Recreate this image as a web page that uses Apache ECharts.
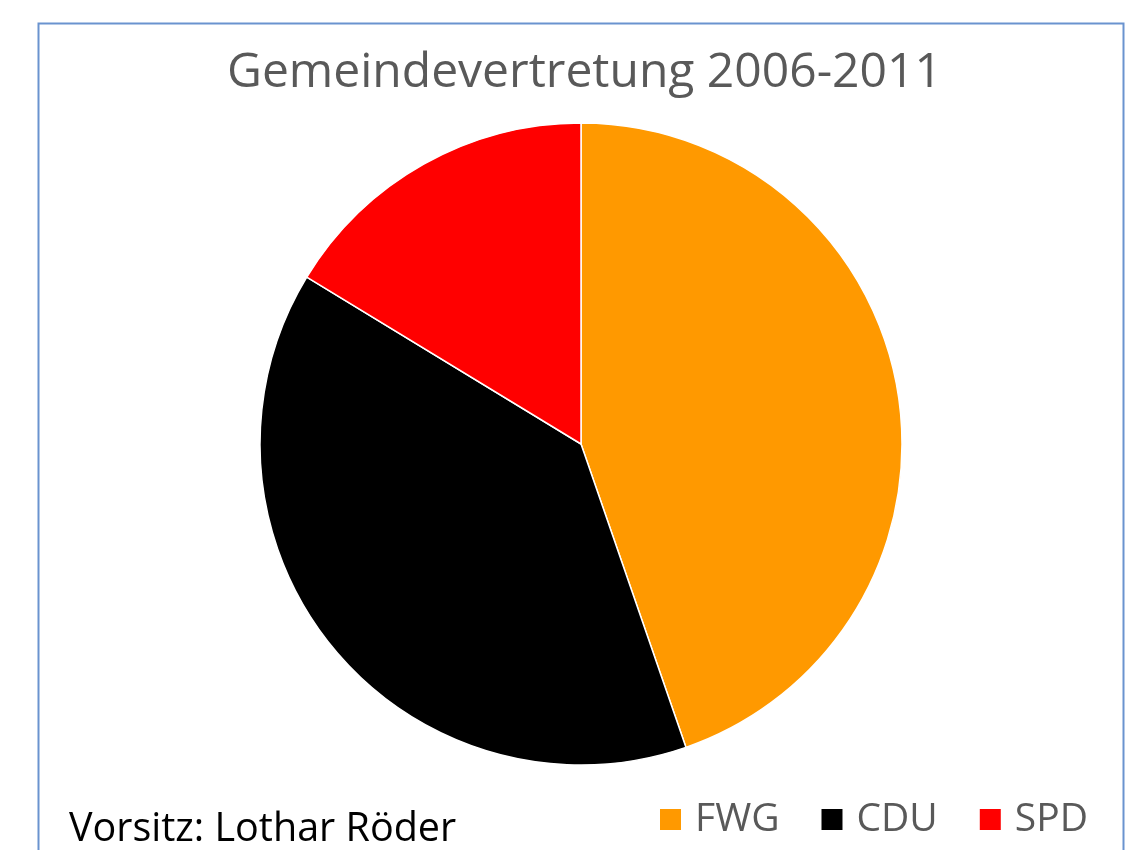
<!DOCTYPE html>
<html>
<head>
<meta charset="utf-8">
<script src="https://cdn.jsdelivr.net/npm/echarts@6/dist/echarts.min.js"></script>
<style>
  html, body { margin: 0; padding: 0; background: #fff; }
  #chart { width: 1143px; height: 850px; }
</style>
</head>
<body>
<div id="chart"></div>
<script>
// Stimmenanteile in Prozent
var parties = ['FWG', 'CDU', 'SPD'];
var shares = [44.7, 39.0, 16.3];
var colors = ['#ff9900', '#000000', '#ff0000'];

var titleText = 'Gemeindevertretung 2006-2011';
var noteText = 'Vorsitz: Lothar Röder';

var data = [];
for (var i = 0; i < parties.length; i++) {
  data.push({ name: parties[i], value: shares[i], itemStyle: { color: colors[i] } });
}

var myChart = echarts.init(document.getElementById('chart'));
var option = {
  animation: false,
  title: [{
    text: titleText,
    left: 222,
    top: 44,
    textStyle: { fontFamily: 'Open Sans', fontSize: 48, fontWeight: 'normal', color: '#595959' }
  }, {
    text: noteText,
    left: 64,
    top: 805,
    textStyle: { fontFamily: 'Open Sans', fontSize: 39.5, fontWeight: 'normal', color: '#000' }
  }],
  legend: {
    data: parties,
    left: 653,
    top: 795,
    icon: 'rect',
    itemWidth: 23,
    itemHeight: 23,
    itemGap: 40,
    textStyle: { fontFamily: 'Open Sans', fontSize: 39, color: '#595959', padding: [0, 0, 0, 8] }
  },
  graphic: [{
    type: 'rect',
    shape: { x: 38.5, y: 23.5, width: 1085, height: 840 },
    style: { fill: null, stroke: '#6a93cf', lineWidth: 2 },
    silent: true
  }],
  series: [{
    type: 'pie',
    center: [581, 444],
    radius: 321,
    startAngle: 90,
    clockwise: true,
    label: { show: false },
    labelLine: { show: false },
    itemStyle: { borderColor: '#fff', borderWidth: 1.5 },
    emphasis: { disabled: true },
    data: data
  }]
};
myChart.setOption(option);
</script>
</body>
</html>
